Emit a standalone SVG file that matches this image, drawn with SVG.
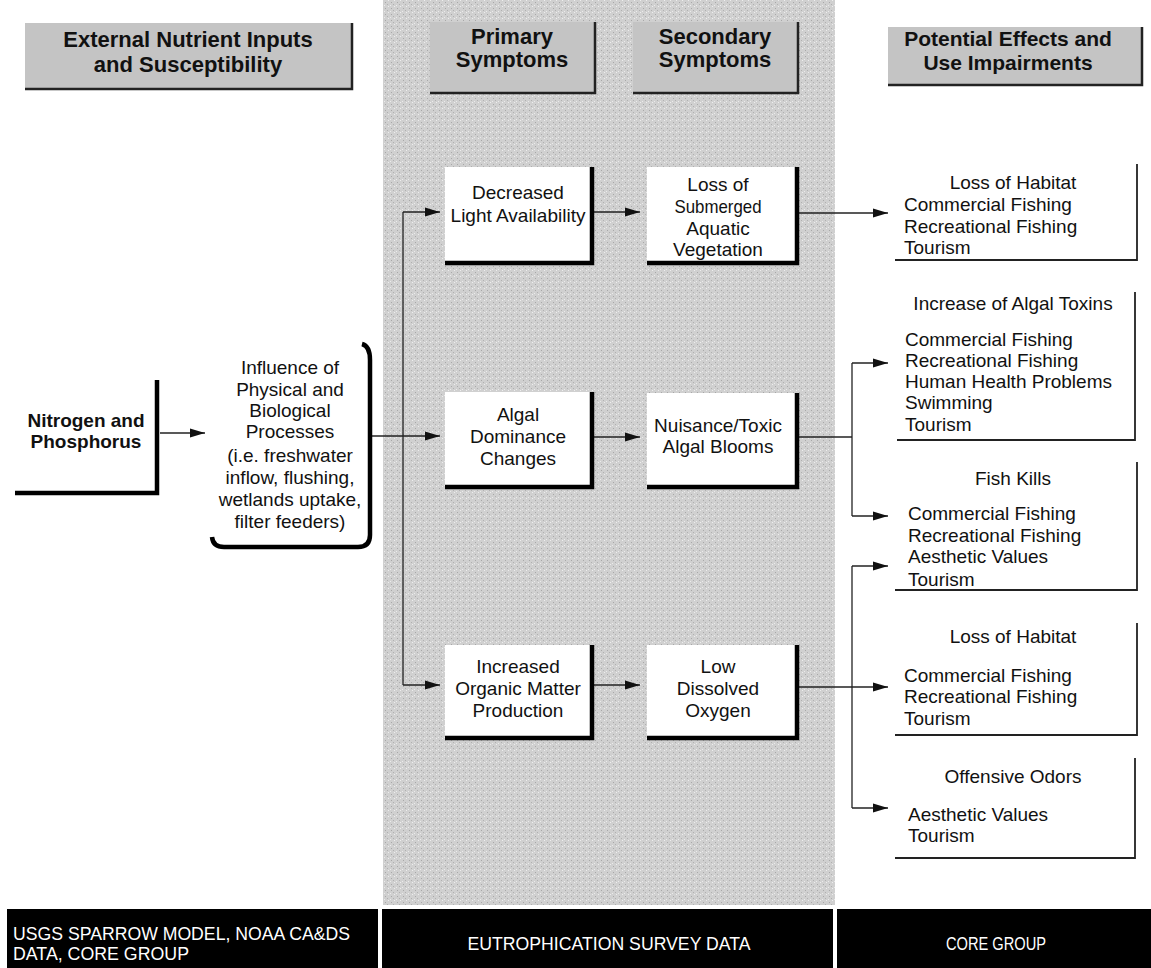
<svg xmlns="http://www.w3.org/2000/svg" width="1151" height="968" viewBox="0 0 1151 968">
<style>
text{font-family:"Liberation Sans",Arial,sans-serif;fill:#111}
.t{font-size:19px}
.c{text-anchor:middle}
.b{font-weight:bold}
.h{font-size:22px;font-weight:bold;text-anchor:middle}
.h2{font-size:21px;font-weight:bold;text-anchor:middle}
.hdr{fill:#c4c4c4}
.hedge{stroke:#222;stroke-width:2.5;fill:none}
.box{fill:#fff}
.edge{stroke:#000;stroke-width:4.5;fill:none}
.thin{stroke:#222;stroke-width:1.8;fill:none}
.conn{stroke:#222;stroke-width:1.3;fill:none}
.foot{fill:#000}
.ft{font-size:19px;fill:#fff}
</style>
<defs>
<marker id="ah" markerUnits="userSpaceOnUse" markerWidth="16" markerHeight="10" refX="15" refY="5" orient="auto">
<path d="M0,0.5 L15,5 L0,9.5 z" fill="#111"/>
</marker>
<pattern id="stip" width="6" height="6" patternUnits="userSpaceOnUse">
<rect width="6" height="6" fill="#d0d0d0"/>
<rect x="1" y="2" width="1" height="1" fill="#a8a8a8"/>
<rect x="4" y="0" width="1" height="1" fill="#eeeeee"/>
<rect x="3" y="4" width="1" height="1" fill="#b0b0b0"/>
<rect x="0" y="5" width="1" height="1" fill="#ebebeb"/>
</pattern>
</defs>

<!-- central gray band -->
<rect id="band" x="383" y="0" width="452" height="905" fill="url(#stip)"/>

<!-- header boxes -->
<g id="hdr-external">
<rect class="hdr" x="25" y="23" width="327" height="66"/>
<path class="hedge" d="M352,23 L352,89 L25,89"/>
<text class="h" x="188" y="47">External Nutrient Inputs</text>
<text class="h" x="188" y="72">and Susceptibility</text>
</g>
<g id="hdr-primary">
<rect class="hdr" x="430" y="22" width="165" height="71"/>
<path class="hedge" d="M595,22 L595,93 L430,93"/>
<text class="h" x="512" y="44">Primary</text>
<text class="h" x="512" y="67">Symptoms</text>
</g>
<g id="hdr-secondary">
<rect class="hdr" x="633" y="22" width="165" height="71"/>
<path class="hedge" d="M798,22 L798,93 L633,93"/>
<text class="h" x="715" y="44">Secondary</text>
<text class="h" x="715" y="67">Symptoms</text>
</g>
<g id="hdr-effects">
<rect class="hdr" x="888" y="27" width="254" height="58"/>
<path class="hedge" d="M1142,27 L1142,85 L888,85"/>
<text class="h2" x="1008" y="46">Potential Effects and</text>
<text class="h2" x="1008" y="70">Use Impairments</text>
</g>

<!-- connectors -->
<g id="connectors">
<line class="conn" x1="160" y1="433" x2="205" y2="433" marker-end="url(#ah)"/>
<line class="conn" x1="370" y1="436" x2="440" y2="436" marker-end="url(#ah)"/>
<line class="conn" x1="403" y1="212" x2="403" y2="685"/>
<line class="conn" x1="403" y1="212" x2="440" y2="212" marker-end="url(#ah)"/>
<line class="conn" x1="403" y1="685" x2="440" y2="685" marker-end="url(#ah)"/>
<line class="conn" x1="592" y1="212" x2="640" y2="212" marker-end="url(#ah)"/>
<line class="conn" x1="592" y1="437" x2="640" y2="437" marker-end="url(#ah)"/>
<line class="conn" x1="592" y1="685" x2="640" y2="685" marker-end="url(#ah)"/>
<line class="conn" x1="797" y1="213" x2="888" y2="213" marker-end="url(#ah)"/>
<polyline class="conn" points="797,437 852,437"/>
<line class="conn" x1="852" y1="363" x2="852" y2="516"/>
<line class="conn" x1="852" y1="363" x2="888" y2="363" marker-end="url(#ah)"/>
<line class="conn" x1="852" y1="516" x2="888" y2="516" marker-end="url(#ah)"/>
<line class="conn" x1="797" y1="687" x2="888" y2="687" marker-end="url(#ah)"/>
<line class="conn" x1="852" y1="566" x2="852" y2="808"/>
<line class="conn" x1="852" y1="566" x2="888" y2="566" marker-end="url(#ah)"/>
<line class="conn" x1="852" y1="808" x2="888" y2="808" marker-end="url(#ah)"/>
</g>

<!-- left nodes -->
<g id="n-nitrogen">
<rect class="box" x="15" y="380" width="142" height="113"/>
<path class="edge" d="M157,380 L157,493 L15,493"/>
<text class="t b c" x="86" y="427">Nitrogen and</text>
<text class="t b c" x="86" y="448">Phosphorus</text>
</g>
<g id="n-influence">
<rect class="box" x="212" y="345" width="158" height="202" rx="12"/>
<path class="edge" d="M362,344 Q370,346 370,360 L370,535 Q370,547 358,547 L224,547 Q213,547 212,537"/>
<text class="t c" x="290" y="374">Influence of</text>
<text class="t c" x="290" y="396">Physical and</text>
<text class="t c" x="290" y="417">Biological</text>
<text class="t c" x="290" y="438">Processes</text>
<text class="t c" x="290" y="462">(i.e. freshwater</text>
<text class="t c" x="290" y="484">inflow, flushing,</text>
<text class="t c" x="290" y="506">wetlands uptake,</text>
<text class="t c" x="290" y="528">filter feeders)</text>
</g>

<!-- primary symptoms -->
<g id="n-light">
<rect class="box" x="445" y="167" width="147" height="96"/>
<path class="edge" d="M592,167 L592,263 L445,263"/>
<text class="t c" x="518" y="199">Decreased</text>
<text class="t c" x="518" y="222">Light Availability</text>
</g>
<g id="n-algal">
<rect class="box" x="445" y="392" width="147" height="95"/>
<path class="edge" d="M592,392 L592,487 L445,487"/>
<text class="t c" x="518" y="421">Algal</text>
<text class="t c" x="518" y="443">Dominance</text>
<text class="t c" x="518" y="465">Changes</text>
</g>
<g id="n-organic">
<rect class="box" x="445" y="645" width="147" height="93"/>
<path class="edge" d="M592,645 L592,738 L445,738"/>
<text class="t c" x="518" y="673">Increased</text>
<text class="t c" x="518" y="695">Organic Matter</text>
<text class="t c" x="518" y="717">Production</text>
</g>

<!-- secondary symptoms -->
<g id="n-sav">
<rect class="box" x="647" y="167" width="150" height="96"/>
<path class="edge" d="M797,167 L797,263 L647,263"/>
<text class="t c" x="718" y="191">Loss of</text>
<text class="t c" x="718" y="213" textLength="87" lengthAdjust="spacingAndGlyphs">Submerged</text>
<text class="t c" x="718" y="235">Aquatic</text>
<text class="t c" x="718" y="256">Vegetation</text>
</g>
<g id="n-blooms">
<rect class="box" x="647" y="393" width="150" height="94"/>
<path class="edge" d="M797,393 L797,487 L647,487"/>
<text class="t c" x="718" y="432">Nuisance/Toxic</text>
<text class="t c" x="718" y="453">Algal Blooms</text>
</g>
<g id="n-do">
<rect class="box" x="647" y="645" width="150" height="93"/>
<path class="edge" d="M797,645 L797,738 L647,738"/>
<text class="t c" x="718" y="673">Low</text>
<text class="t c" x="718" y="695">Dissolved</text>
<text class="t c" x="718" y="717">Oxygen</text>
</g>

<!-- effects -->
<g id="e-habitat1">
<path class="thin" d="M1137,164 L1137,260 L895,260"/>
<text class="t c" x="1013" y="189">Loss of Habitat</text>
<text class="t" x="904" y="211">Commercial Fishing</text>
<text class="t" x="904" y="233">Recreational Fishing</text>
<text class="t" x="904" y="254">Tourism</text>
</g>
<g id="e-toxins">
<path class="thin" d="M1135,292 L1135,440 L897,440"/>
<text class="t c" x="1013" y="310">Increase of Algal Toxins</text>
<text class="t" x="905" y="346">Commercial Fishing</text>
<text class="t" x="905" y="367">Recreational Fishing</text>
<text class="t" x="905" y="388">Human Health Problems</text>
<text class="t" x="905" y="409">Swimming</text>
<text class="t" x="905" y="431">Tourism</text>
</g>
<g id="e-fishkills">
<path class="thin" d="M1137,462 L1137,590 L895,590"/>
<text class="t c" x="1013" y="485">Fish Kills</text>
<text class="t" x="908" y="520">Commercial Fishing</text>
<text class="t" x="908" y="542">Recreational Fishing</text>
<text class="t" x="908" y="563">Aesthetic Values</text>
<text class="t" x="908" y="586">Tourism</text>
</g>
<g id="e-habitat2">
<path class="thin" d="M1137,623 L1137,735 L895,735"/>
<text class="t c" x="1013" y="643">Loss of Habitat</text>
<text class="t" x="904" y="682">Commercial Fishing</text>
<text class="t" x="904" y="703">Recreational Fishing</text>
<text class="t" x="904" y="725">Tourism</text>
</g>
<g id="e-odors">
<path class="thin" d="M1135,758 L1135,858 L895,858"/>
<text class="t c" x="1013" y="783">Offensive Odors</text>
<text class="t" x="908" y="821">Aesthetic Values</text>
<text class="t" x="908" y="842">Tourism</text>
</g>

<!-- footer -->
<g id="footer-left">
<rect class="foot" x="7" y="909" width="371" height="59"/>
<text class="ft" x="13" y="940" textLength="337" lengthAdjust="spacingAndGlyphs">USGS SPARROW MODEL, NOAA CA&amp;DS</text>
<text class="ft" x="13" y="960" textLength="176" lengthAdjust="spacingAndGlyphs">DATA, CORE GROUP</text>
</g>
<g id="footer-mid">
<rect class="foot" x="382" y="909" width="451" height="59"/>
<text class="ft" x="609" y="950" text-anchor="middle" textLength="283" lengthAdjust="spacingAndGlyphs">EUTROPHICATION SURVEY DATA</text>
</g>
<g id="footer-right">
<rect class="foot" x="837" y="909" width="314" height="59"/>
<text class="ft" x="996" y="950" text-anchor="middle" textLength="100" lengthAdjust="spacingAndGlyphs">CORE GROUP</text>
</g>
</svg>
